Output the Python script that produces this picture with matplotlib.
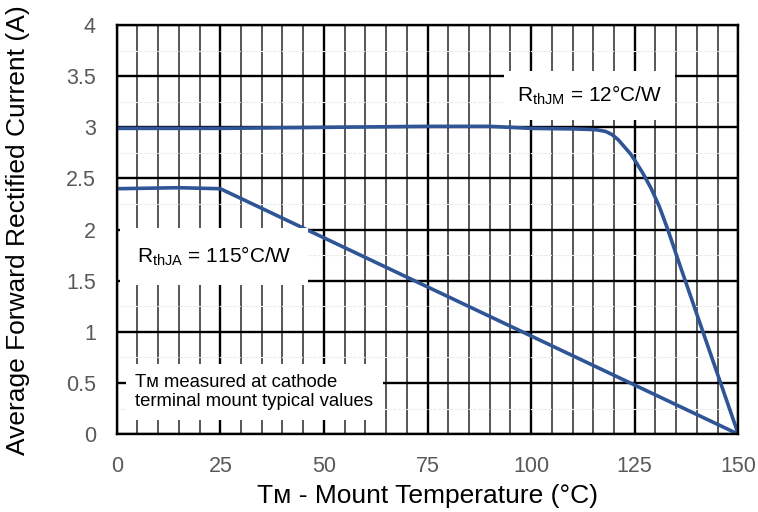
import numpy as np
import matplotlib.pyplot as plt
from matplotlib.ticker import MultipleLocator

# Mount temperature (deg C) and derated current (A) for the two thermal paths
temp_jm = [0, 25, 50, 75, 90, 100, 110, 114, 116, 118, 119.5, 121, 122.5, 124, 125,
           127, 129, 131, 133, 135.5, 150]
curr_jm = [2.99, 2.99, 3.00, 3.01, 3.01, 2.99, 2.985, 2.98, 2.975, 2.96, 2.93, 2.88,
           2.81, 2.74, 2.68, 2.55, 2.40, 2.22, 2.00, 1.70, 0.0]

temp_ja = [0, 15, 25, 150]
curr_ja = [2.40, 2.41, 2.40, 0.0]

x_ticks = [0, 25, 50, 75, 100, 125, 150]
y_ticks = [0, 0.5, 1, 1.5, 2, 2.5, 3, 3.5, 4]
y_labels = ["0", "0.5", "1", "1.5", "2", "2.5", "3", "3.5", "4"]

plt.rcParams["font.family"] = ["Liberation Sans", "DejaVu Sans"]

fig = plt.figure(figsize=(7.58, 5.12), dpi=100)
ax = fig.add_axes([0.154, 0.152, 0.82, 0.799])

line_col = "#2F5597"
ax.plot(temp_jm, curr_jm, color=line_col, lw=2.6, solid_joinstyle="round", zorder=3)
ax.plot(temp_ja, curr_ja, color=line_col, lw=2.6, solid_joinstyle="round", zorder=3)

ax.set_xlim(0, 150)
ax.set_ylim(0, 4)
ax.set_xticks(x_ticks)
ax.set_yticks(y_ticks)
ax.set_yticklabels(y_labels)
ax.xaxis.set_minor_locator(MultipleLocator(5))
ax.yaxis.set_minor_locator(MultipleLocator(0.25))

# grid: heavy black majors, dark grey vertical minors, faint horizontal minors
ax.grid(which="major", color="black", lw=1.7, zorder=1)
ax.grid(which="minor", axis="x", color="#3a3a3a", lw=1.2, zorder=1)
ax.grid(which="minor", axis="y", color="#ececec", lw=0.8, ls=(0, (3, 1)), zorder=0.5)

for s in ax.spines.values():
    s.set_linewidth(1.7)
    s.set_color("black")
    s.set_zorder(4)

ax.tick_params(which="major", axis="y", length=0, labelsize=15.5,
               labelcolor="#595959", pad=15)
ax.tick_params(which="major", axis="x", length=0, labelsize=15.5,
               labelcolor="#595959", pad=16)
ax.tick_params(which="minor", length=0)

# small-capital M sits on the baseline, as in the datasheet
ax.set_xlabel("T\u1d0d - Mount Temperature (°C)", fontsize=19, labelpad=5)
ax.set_ylabel("Average Forward Rectified Current (A)", fontsize=19, labelpad=26)

ax.text(96.5, 3.31, "R$_\\mathregular{thJM}$ = 12°C/W", fontsize=15, va="center",
        ha="left", bbox=dict(facecolor="white", edgecolor="none", pad=9), zorder=5)
ax.text(4.8, 1.74, "R$_\\mathregular{thJA}$ = 115°C/W", fontsize=15, va="center",
        ha="left", bbox=dict(facecolor="white", edgecolor="none", pad=12), zorder=5)
ax.text(4.5, 0.41, "T\u1d0d measured at cathode\nterminal mount typical values",
        fontsize=13.3, va="center", ha="left", linespacing=1.15,
        bbox=dict(facecolor="white", edgecolor="none", pad=7), zorder=5)

fig.savefig("out.png", dpi=100)
